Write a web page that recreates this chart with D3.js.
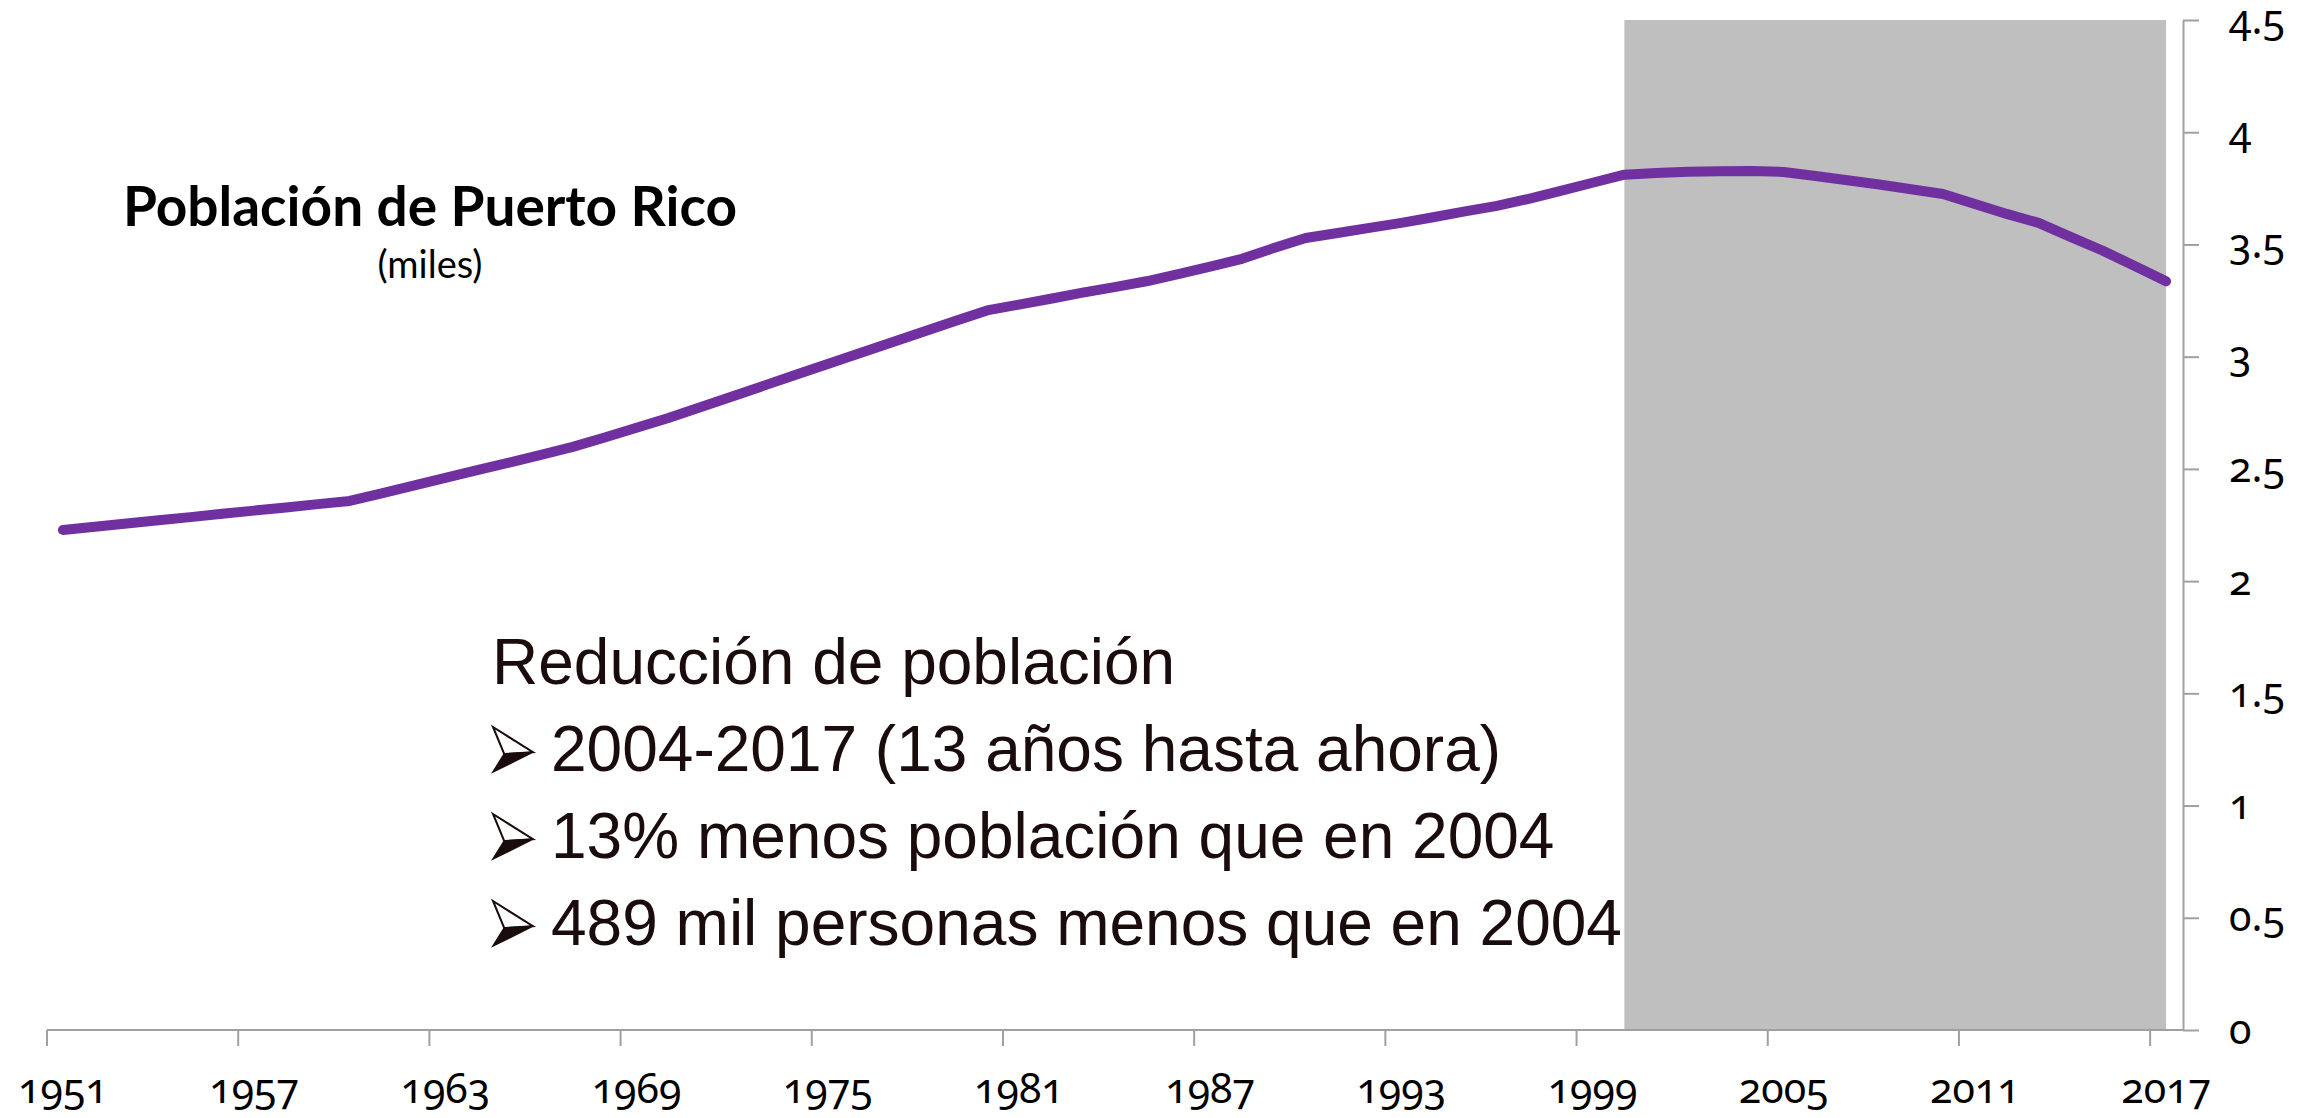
<!DOCTYPE html>
<html><head><meta charset="utf-8">
<script src="https://cdn.jsdelivr.net/npm/d3@7"></script>
<style>
html,body{margin:0;padding:0;background:#fff;overflow:hidden}
.num{font-family:"Noto Sans",sans-serif;font-variant-numeric:oldstyle-nums;font-feature-settings:"onum" 1;}
</style>
</head><body>
<svg id="c" width="2316" height="1118"></svg>
<script>
// ---------- data ----------
const years = [1951,1952,1953,1954,1955,1956,1957,1958,1959,1960,
  1961,1962,1963,1964,1965,1966,1967,1968,1969,1970,
  1971,1972,1973,1974,1975,1976,1977,1978,1979,1980,
  1981,1982,1983,1984,1985,1986,1987,1988,1989,1990,
  1991,1992,1993,1994,1995,1996,1997,1998,1999,2000,
  2001,2002,2003,2004,2005,2006,2007,2008,2009,2010,
  2011,2012,2013,2014,2015,2016,2017];
const population = [2.228,2.242,2.257,2.271,2.285,2.300,2.314,2.328,2.343,2.357,
  2.391,2.425,2.460,2.494,2.528,2.562,2.598,2.640,2.683,2.727,
  2.775,2.823,2.871,2.919,2.967,3.015,3.063,3.111,3.159,3.206,
  3.232,3.258,3.285,3.310,3.336,3.368,3.401,3.436,3.484,3.529,
  3.551,3.574,3.596,3.621,3.647,3.672,3.703,3.739,3.775,3.811,
  3.818,3.824,3.826,3.827,3.823,3.805,3.786,3.767,3.746,3.725,
  3.680,3.636,3.596,3.534,3.473,3.405,3.336];
const xTickYears = [1951,1957,1963,1969,1975,1981,1987,1993,1999,2005,2011,2017];
const yTickValues = [0,0.5,1,1.5,2,2.5,3,3.5,4,4.5];
const shadeYears = [2000, 2017];
const titleText = "Población de Puerto Rico";
const subtitleText = "(miles)";
const noteHeading = "Reducción de población";
const noteBullets = ["2004-2017 (13 años hasta ahora)",
                     "13% menos población que en 2004",
                     "489 mil personas menos que en 2004"];

// ---------- layout ----------
const svg = d3.select("#c");
const plotLeft = 47, plotRight = 2182, plotTop = 20, plotBottom = 1030;
const axisX = 2183;

const x = d3.scaleBand().domain(years).range([plotLeft, plotRight]).padding(0);
const y = d3.scaleLinear().domain([0, 4.5]).range([plotBottom, plotTop]);
const cx = yr => x(yr) + x.bandwidth() / 2;

// shaded band
svg.append("rect")
  .attr("x", cx(shadeYears[0]))
  .attr("y", y(4.5))
  .attr("width", cx(shadeYears[1]) - cx(shadeYears[0]))
  .attr("height", y(0) - y(4.5))
  .attr("fill", "#bfbfbf");

// x axis
const xAxis = d3.axisBottom(x).tickValues(xTickYears).tickSize(16).tickSizeOuter(0);
const gx = svg.append("g").attr("transform", `translate(0,${plotBottom})`).call(xAxis);
gx.select(".domain").remove();
gx.selectAll(".tick line")
  .attr("x1", -x.step() / 2).attr("x2", -x.step() / 2)
  .attr("stroke", "#a0a0a0").attr("stroke-width", 2);
gx.selectAll(".tick text")
  .attr("class", "num")
  .attr("y", 73).attr("dy", null)
  .attr("font-size", 41).attr("fill", "#000");
svg.append("line").attr("x1", plotLeft).attr("x2", axisX + 1)
  .attr("y1", plotBottom).attr("y2", plotBottom)
  .attr("stroke", "#a0a0a0").attr("stroke-width", 2);

// y axis (right)
const yAxis = d3.axisRight(y).tickValues(yTickValues).tickSize(16).tickSizeOuter(0)
  .tickFormat(d => String(d));
const gy = svg.append("g").attr("transform", `translate(${axisX},0)`).call(yAxis);
gy.select(".domain").attr("stroke", "#a0a0a0").attr("stroke-width", 2);
gy.selectAll(".tick line").attr("stroke", "#a0a0a0").attr("stroke-width", 2);
gy.selectAll(".tick text")
  .attr("class", "num")
  .attr("x", 46).attr("y", 13).attr("dy", null)
  .attr("font-size", 41).attr("fill", "#000");

// line
const line = d3.line().x((d, i) => cx(years[i])).y(d => y(d));
svg.append("path").datum(population)
  .attr("d", line)
  .attr("fill", "none")
  .attr("stroke", "#7030a0")
  .attr("stroke-width", 10)
  .attr("stroke-linecap", "round")
  .attr("stroke-linejoin", "round");

// title
svg.append("text").text(titleText)
  .attr("x", 430).attr("y", 226)
  .attr("text-anchor", "middle")
  .attr("font-family", "Lato, sans-serif").attr("font-weight", 700)
  .attr("font-size", 55).attr("fill", "#000");
svg.append("text").text(subtitleText)
  .attr("x", 430).attr("y", 278)
  .attr("text-anchor", "middle")
  .attr("font-family", "Lato, sans-serif")
  .attr("font-size", 38).attr("fill", "#000");

// note block
const noteColor = "#1a0c0c";
const baseY = 684, lineGap = 87;
svg.append("text").text(noteHeading)
  .attr("x", 492).attr("y", baseY)
  .attr("font-family", "'Liberation Sans', Arial, sans-serif")
  .attr("font-size", 64).attr("fill", noteColor);

// 3-D arrowhead bullet marker (top-lit face + dark lower face)
const aw = 40, ah = 45;
const upperFace = d3.line()([[0, 0], [aw, ah * 0.56], [aw * 0.28, ah * 0.6]]) + "Z";
const lowerFace = d3.line()([[aw * 0.28, ah * 0.6], [aw, ah * 0.56], [0, ah]]) + "Z";
noteBullets.forEach((t, i) => {
  const by = baseY + lineGap * (i + 1);
  const g = svg.append("g").attr("transform", `translate(493,${by - ah + 1})`);
  g.append("path").attr("d", upperFace)
    .attr("fill", "#fff").attr("stroke", noteColor)
    .attr("stroke-width", 2).attr("stroke-linejoin", "miter");
  g.append("path").attr("d", lowerFace)
    .attr("fill", noteColor).attr("stroke", noteColor)
    .attr("stroke-width", 1.5).attr("stroke-linejoin", "miter");
  svg.append("text").text(t)
    .attr("x", 551).attr("y", by)
    .attr("font-family", "'Liberation Sans', Arial, sans-serif")
    .attr("font-size", 64).attr("fill", noteColor);
});
</script>
</body></html>
